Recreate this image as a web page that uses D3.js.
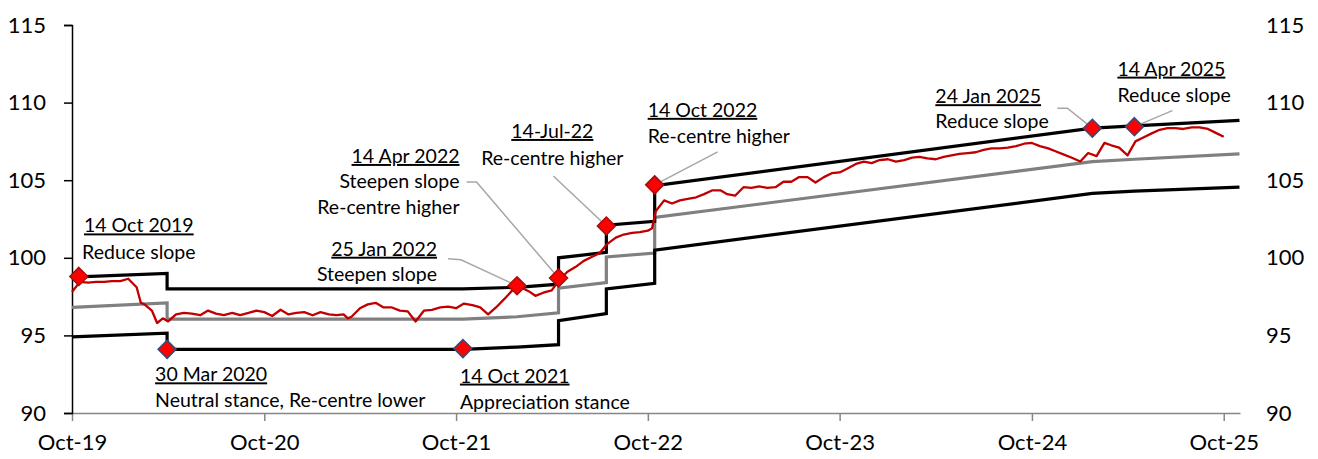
<!DOCTYPE html>
<html>
<head>
<meta charset="utf-8">
<script src="https://cdn.jsdelivr.net/npm/d3@7"></script>
<style>
  body { margin: 0; background: #fff; }
  svg { display: block; font-family: Lato, "Open Sans", sans-serif; }
</style>
</head>
<body>
<svg class="chart"></svg>
<script>
var width = 1318, height = 459;

// band (policy corridor) knots - repeated dates are the jumps
var bandDates = ["2019-10-01","2020-03-30","2020-03-30","2021-10-14","2022-01-25","2022-04-14","2022-04-14",
                 "2022-07-14","2022-07-14","2022-10-14","2022-10-14","2025-01-24","2025-04-14","2025-10-31"];
var upperVals = [98.75, 99.0, 98.0, 98.0, 98.1, 98.3, 100.0, 100.35, 102.1, 102.35, 104.65, 108.35, 108.5, 108.85];
var midVals   = [96.8, 97.1, 96.05, 96.05, 96.2, 96.45, 98.05, 98.4, 100.05, 100.3, 102.6, 106.2, 106.35, 106.7];
var lowerVals = [94.9, 95.15, 94.1, 94.1, 94.25, 94.4, 95.95, 96.4, 98.0, 98.35, 100.5, 104.15, 104.3, 104.55];

var idxDates = ["2019-10-01","2019-10-16","2019-11-01","2019-11-16","2019-12-01","2019-12-16","2020-01-01","2020-01-16",
  "2020-02-01","2020-02-09","2020-02-16","2020-03-01","2020-03-11","2020-03-22","2020-04-01","2020-04-16",
  "2020-05-01","2020-05-16","2020-06-01","2020-06-16","2020-07-01","2020-07-16","2020-08-01","2020-08-16",
  "2020-09-01","2020-09-16","2020-10-01","2020-10-16","2020-11-01","2020-11-16","2020-12-01","2020-12-16",
  "2021-01-01","2021-01-16","2021-02-01","2021-02-16","2021-03-01","2021-03-09","2021-03-16","2021-04-01","2021-04-16",
  "2021-05-01","2021-05-16","2021-06-01","2021-06-16","2021-07-01","2021-07-16","2021-08-01","2021-08-16",
  "2021-09-01","2021-09-16","2021-10-01","2021-10-16","2021-11-01","2021-11-16","2021-12-01","2021-12-16",
  "2022-01-01","2022-01-16","2022-02-01","2022-02-16","2022-03-01","2022-03-16","2022-04-01","2022-04-16",
  "2022-05-01","2022-05-16","2022-06-01","2022-06-16","2022-07-01","2022-07-16","2022-08-01","2022-08-16",
  "2022-09-01","2022-09-16","2022-10-01","2022-10-09","2022-10-16","2022-11-01","2022-11-16","2022-12-01","2022-12-16",
  "2023-01-01","2023-01-16","2023-02-01","2023-02-16","2023-03-01","2023-03-16","2023-04-01","2023-04-16",
  "2023-05-01","2023-05-16","2023-06-01","2023-06-16","2023-07-01","2023-07-16","2023-08-01","2023-08-16",
  "2023-09-01","2023-09-16","2023-10-01","2023-10-16","2023-11-01","2023-11-16","2023-12-01","2023-12-16",
  "2024-01-01","2024-01-16","2024-02-01","2024-02-16","2024-03-01","2024-03-16","2024-04-01","2024-04-16",
  "2024-05-01","2024-05-16","2024-06-01","2024-06-16","2024-07-01","2024-07-16","2024-08-01","2024-08-16",
  "2024-09-01","2024-09-16","2024-10-01","2024-10-16","2024-11-01","2024-11-16","2024-12-01","2024-12-16",
  "2025-01-01","2025-01-16","2025-02-01","2025-02-16","2025-03-01","2025-03-16","2025-04-01","2025-04-16",
  "2025-05-01","2025-05-16","2025-06-01","2025-06-16","2025-07-01","2025-07-16","2025-08-01","2025-08-16",
  "2025-09-01","2025-09-16","2025-10-01"];
var idxVals = [97.8, 98.45, 98.4, 98.45, 98.45, 98.5, 98.5, 98.65,
  98.1, 97.1, 97.0, 96.6, 95.8, 96.1, 95.9, 96.35,
  96.45, 96.4, 96.3, 96.6, 96.4, 96.3, 96.45, 96.3,
  96.45, 96.6, 96.5, 96.25, 96.65, 96.35, 96.45, 96.5,
  96.3, 96.5, 96.35, 96.3, 96.35, 96.1, 96.2, 96.75, 97.0,
  97.1, 96.8, 96.8, 96.6, 96.55, 95.9, 96.6, 96.65,
  96.8, 96.85, 96.75, 97.05, 96.95, 96.8, 96.35, 96.8,
  97.35, 97.9, 98.1, 97.85, 97.55, 97.75, 97.9, 98.6,
  99.1, 99.4, 99.8, 100.05, 100.3, 100.9, 101.3, 101.5,
  101.6, 101.65, 101.75, 101.9, 103.0, 103.7, 103.5, 103.7, 103.8,
  103.9, 104.1, 104.35, 104.35, 104.1, 104.0, 104.55, 104.5,
  104.6, 104.5, 104.55, 104.9, 104.9, 105.2, 105.2, 104.85,
  105.2, 105.45, 105.5, 105.75, 106.05, 106.2, 106.1, 106.3,
  106.35, 106.2, 106.3, 106.45, 106.5, 106.4, 106.35, 106.5,
  106.6, 106.7, 106.75, 106.8, 106.95, 107.05, 107.05, 107.1,
  107.2, 107.35, 107.4, 107.2, 107.05, 106.85, 106.65, 106.45,
  106.2, 106.75, 106.55, 107.4, 107.25, 107.1, 106.6, 107.5,
  107.75, 108.0, 108.25, 108.35, 108.35, 108.3, 108.4, 108.4,
  108.3, 108.05, 107.8];

// policy statements
var eventDates = ["2019-10-14","2020-03-30","2021-10-14","2022-01-25","2022-04-14","2022-07-14","2022-10-14","2025-01-24","2025-04-14"];
var eventVals  = [98.8, 94.1, 94.15, 98.2, 98.7, 102.05, 104.7, 108.35, 108.45];
var eventKind  = ["top","bottom","bottom","top","top","top","top","bottom","bottom"];
var eventTitles = ["14 Oct 2019","30 Mar 2020","14 Oct 2021","25 Jan 2022","14 Apr 2022","14-Jul-22","14 Oct 2022","24 Jan 2025","14 Apr 2025"];
var eventNotes = [["Reduce slope"],["Neutral stance, Re-centre lower"],["Appreciation stance"],["Steepen slope"],
  ["Steepen slope","Re-centre higher"],["Re-centre higher"],["Re-centre higher"],["Reduce slope"],["Reduce slope"]];

var yTicks = [90, 95, 100, 105, 110, 115];
var xTicks = ["2019-10-01","2020-10-01","2021-10-01","2022-10-01","2023-10-01","2024-10-01","2025-10-01"];

// label placement relative to each marker (px): anchor, dx, baseline of title, leader points
var labelLayout = [
  {anchor: "middle", dx: 60, dy: -44, gap: 27, leader: null},
  {anchor: "start", dx: -12, dy: 32, gap: 26, leader: null},
  {anchor: "start", dx: -3, dy: 34, gap: 26, leader: null},
  {anchor: "end", dx: -80, dy: -30, gap: 25, leader: [[-69, -27], [-56, -26]]},
  {anchor: "end", dx: -99, dy: -115, gap: 25.5, leader: [[-92, -96], [-82, -96]]},
  {anchor: "middle", dx: -54, dy: -88, gap: 27, leader: [[-53, -50]]},
  {anchor: "start", dx: -7, dy: -68, gap: 26, leader: [[63, -33]]},
  {anchor: "start", dx: -157, dy: -25, gap: 25, leader: [[-35, -20], [-25, -20]]},
  {anchor: "start", dx: -17, dy: -51, gap: 26, leader: [[38, -16]]}
];

var parse = d3.timeParse("%Y-%m-%d");

var chart = d3.select(".chart")
    .attr("width", width)
    .attr("height", height);

var x = d3.scaleTime()
    .domain([parse("2019-10-01"), parse("2025-11-01")])
    .range([72, 1240]);

var y = d3.scaleLinear()
    .domain([90, 115])
    .range([413, 25]);

// axes
var x_axis = d3.axisBottom(x)
    .tickValues(xTicks.map(parse))
    .tickFormat(d3.timeFormat("%b-%y"))
    .tickSizeInner(8).tickSizeOuter(0)
    .tickPadding(13);

var gx = chart.append("g")
    .attr("transform", "translate(0,413)")
    .call(x_axis);
gx.select(".domain").attr("stroke", "#868686").attr("stroke-width", 1.5);
gx.selectAll(".tick line").attr("stroke", "#868686").attr("stroke-width", 1.5);
gx.selectAll("text").attr("font-size", 22).attr("fill", "#000").style("font-family", "Lato");

var gy = chart.append("g")
    .attr("transform", "translate(72,0)")
    .call(d3.axisLeft(y).tickValues(yTicks).tickSizeInner(8).tickSizeOuter(8).tickPadding(18));
gy.select(".domain").attr("stroke", "#000").attr("stroke-width", 1.5);
gy.selectAll(".tick line").attr("stroke", "#000").attr("stroke-width", 1.5);
gy.selectAll("text").attr("font-size", 22).attr("fill", "#000").style("font-family", "Lato");

var gy2 = chart.append("g")
    .attr("transform", "translate(1240,0)")
    .call(d3.axisRight(y).tickValues(yTicks).tickSize(0).tickPadding(26));
gy2.select(".domain").remove();
gy2.selectAll("text").attr("font-size", 22).attr("fill", "#000").style("font-family", "Lato");

// lines
var line = d3.line()
    .x(function(d) { return x(d[0]); })
    .y(function(d) { return y(d[1]); });

function pairs(dates, vals) {
  return dates.map(function(d, i) { return [parse(d), vals[i]]; });
}

// leaders go under the lines
var leaders = chart.append("g");

chart.append("path").datum(pairs(bandDates, midVals))
    .attr("d", line).attr("fill", "none").attr("stroke", "#808080").attr("stroke-width", 3.2);
chart.append("path").datum(pairs(bandDates, upperVals))
    .attr("d", line).attr("fill", "none").attr("stroke", "#000").attr("stroke-width", 3.2);
chart.append("path").datum(pairs(bandDates, lowerVals))
    .attr("d", line).attr("fill", "none").attr("stroke", "#000").attr("stroke-width", 3.2);
chart.append("path").datum(pairs(idxDates, idxVals))
    .attr("d", line).attr("fill", "none").attr("stroke", "#c00000").attr("stroke-width", 2.3)
    .attr("stroke-linejoin", "round");

// annotations
eventDates.forEach(function(d, i) {
  var px = x(parse(d)), py = y(eventVals[i]);
  var L = labelLayout[i];
  if (L.leader) {
    var pts = L.leader.map(function(p) { return [px + p[0], py + p[1]]; });
    pts.push([px, py]);
    leaders.append("path")
        .attr("d", d3.line()(pts))
        .attr("fill", "none").attr("stroke", "#a6a6a6").attr("stroke-width", 1.5);
  }
  var t = chart.append("g").attr("font-size", 19.5).attr("fill", "#000")
      .attr("text-anchor", L.anchor);
  t.append("text")
      .attr("x", px + L.dx).attr("y", py + L.dy)
      .attr("text-decoration", "underline")
      .text(eventTitles[i]);
  eventNotes[i].forEach(function(n, j) {
    t.append("text")
        .attr("x", px + L.dx).attr("y", py + L.dy + L.gap * (j + 1))
        .text(n);
  });
});

// diamonds
chart.append("g").selectAll("path")
    .data(eventDates)
    .enter().append("path")
    .attr("transform", function(d, i) {
      return "translate(" + x(parse(d)) + "," + y(eventVals[i]) + ")";
    })
    .attr("d", "M0,-9L9,0L0,9L-9,0Z")
    .attr("fill", "#ff0000")
    .attr("stroke", function(d, i) { return eventKind[i] == "top" ? "#a01010" : "#2f4f7a"; })
    .attr("stroke-width", 1.5);
</script>
</body>
</html>
